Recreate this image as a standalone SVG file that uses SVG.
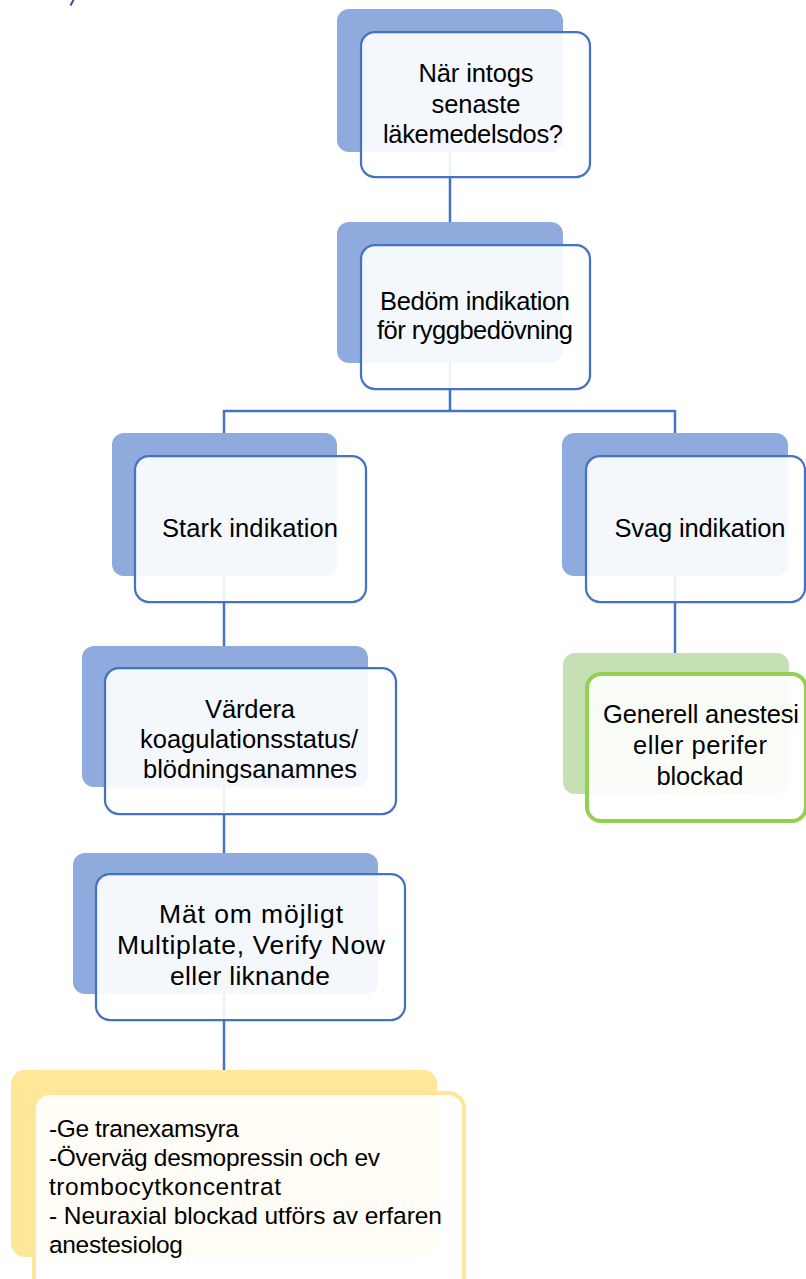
<svg xmlns="http://www.w3.org/2000/svg" width="806" height="1279" viewBox="0 0 806 1279">
<style>
.bg{fill:#FFFFFF}
.conn{fill:none;stroke:#4472C4;stroke-width:2.5}
.backB{fill:#8FAADC}
.frontB{fill:#FFFFFF;fill-opacity:0.9;stroke:#4472C4;stroke-width:2.25}
.backG{fill:#C5E0B4}
.frontG{fill:#FFFFFF;fill-opacity:0.9;stroke:#92D050;stroke-width:4}
.backY{fill:#FFE699}
.frontY{fill:#FFFFFF;fill-opacity:0.9;stroke:#FFE699;stroke-width:4}
text{font-family:"Liberation Sans",Arial,sans-serif;font-size:25.5px;fill:#000000}
.c{text-anchor:middle}
.m{font-size:26.5px}
.y{font-size:24.5px}
</style>
<rect class="bg" x="0" y="0" width="806" height="1279"/>
<line x1="73.5" y1="0" x2="70.5" y2="5.5" stroke="#2F5597" stroke-width="2"/>
<g id="connectors">
<path class="conn" d="M450,152 V222"/>
<path class="conn" d="M450,363 V411 M224,411 H675 M224,410 V433 M675,410 V433"/>
<path class="conn" d="M224,576 V646"/>
<path class="conn" d="M224,787 V853"/>
<path class="conn" d="M224,994 V1070"/>
<path class="conn" d="M675,576 V653"/>
</g>
<g id="node-senaste">
<rect class="backB" x="337" y="9" width="226" height="143" rx="12"/>
<rect class="frontB" x="361" y="32" width="229" height="145" rx="14"/>
<text class="c" x="476" y="82" textLength="115">När intogs</text>
<text class="c" x="476" y="112.5" textLength="89">senaste</text>
<text class="c" x="473" y="143" textLength="180">läkemedelsdos?</text>
</g>
<g id="node-bedom">
<rect class="backB" x="337" y="222" width="226" height="141" rx="12"/>
<rect class="frontB" x="361" y="245" width="229" height="144" rx="14"/>
<text class="c" x="475" y="310" textLength="190">Bedöm indikation</text>
<text class="c" x="475" y="339" textLength="196">för ryggbedövning</text>
</g>
<g id="node-stark">
<rect class="backB" x="112" y="433" width="225" height="143" rx="12"/>
<rect class="frontB" x="135" y="456" width="231" height="146" rx="14"/>
<text class="c" x="250" y="537" textLength="176">Stark indikation</text>
</g>
<g id="node-svag">
<rect class="backB" x="562" y="433" width="226" height="143" rx="12"/>
<rect class="frontB" x="586" y="456" width="219" height="146" rx="14"/>
<text class="c" x="700" y="537" textLength="171">Svag indikation</text>
</g>
<g id="node-generell">
<rect class="backG" x="563" y="653" width="226" height="141" rx="12"/>
<rect class="frontG" x="587" y="674" width="219" height="147" rx="14"/>
<text class="c" x="701" y="723" textLength="196">Generell anestesi</text>
<text class="c" x="700" y="754" textLength="134">eller perifer</text>
<text class="c" x="700" y="785" textLength="87">blockad</text>
</g>
<g id="node-vardera">
<rect class="backB" x="82" y="646" width="286" height="141" rx="12"/>
<rect class="frontB" x="105" y="668" width="291" height="146" rx="14"/>
<text class="c" x="250" y="718" textLength="90">Värdera</text>
<text class="c" x="249" y="748" textLength="218">koagulationsstatus/</text>
<text class="c" x="250" y="778" textLength="214">blödningsanamnes</text>
</g>
<g id="node-mat">
<rect class="backB" x="73" y="853" width="305" height="141" rx="12"/>
<rect class="frontB" x="96" y="874" width="309" height="146" rx="14"/>
<text class="c m" x="251" y="923" textLength="184">Mät om möjligt</text>
<text class="c m" x="251" y="954" textLength="268">Multiplate, Verify Now</text>
<text class="c m" x="250" y="985" textLength="160">eller liknande</text>
</g>
<g id="node-atgard">
<rect class="backY" x="11" y="1070" width="426" height="187" rx="14"/>
<rect class="frontY" x="34" y="1093" width="430" height="205" rx="16"/>
<text class="y" x="49" y="1137" textLength="190">-Ge tranexamsyra</text>
<text class="y" x="49" y="1166" textLength="331">-Överväg desmopressin och ev</text>
<text class="y" x="49" y="1195" textLength="232">trombocytkoncentrat</text>
<text class="y" x="49" y="1224" textLength="393">- Neuraxial blockad utförs av erfaren</text>
<text class="y" x="49" y="1253" textLength="134">anestesiolog</text>
</g>
</svg>
